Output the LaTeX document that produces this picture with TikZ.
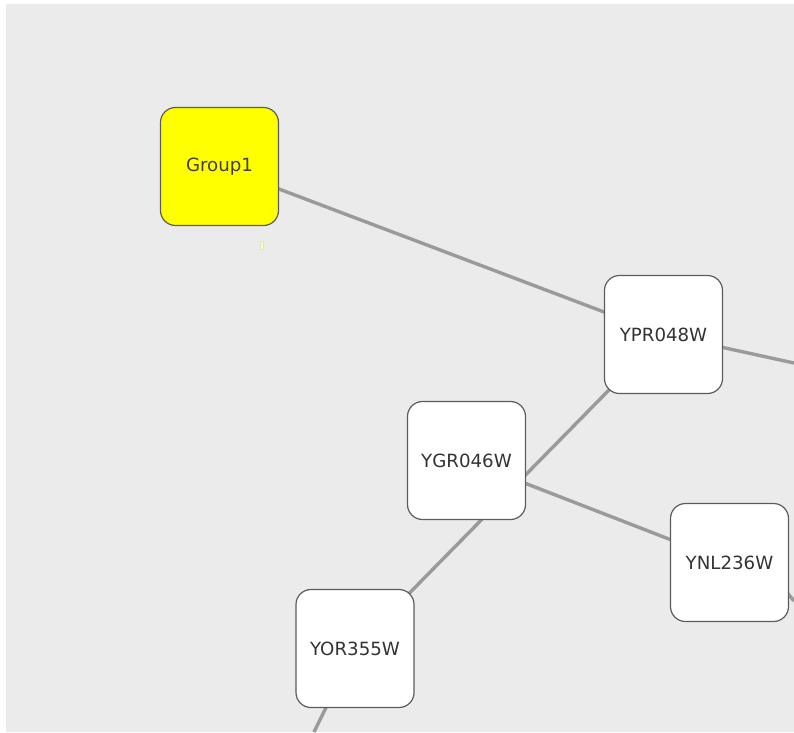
\documentclass[tikz,border=0pt]{standalone}
\usepackage{fontspec}
\setmainfont{DejaVu Sans}
\usetikzlibrary{backgrounds}
\definecolor{canvas}{HTML}{EBEBEB}
\definecolor{edgegray}{HTML}{9A9A9A}
\definecolor{bordergray}{HTML}{5C5C5C}
\definecolor{textgray}{HTML}{333333}
\definecolor{groupyellow}{HTML}{FFFF00}
\tikzset{
  gene/.style={draw=bordergray, line width=1.2pt, fill=white, rounded corners=15pt,
    minimum width=118pt, minimum height=118pt, inner sep=0pt,
    text=textgray, font=\fontsize{18.2}{20}\selectfont},
  groupnode/.style={gene, fill=groupyellow, text=black!75},
  link/.style={draw=edgegray, line width=3.4pt}
}
\begin{document}
\begin{tikzpicture}[x=1pt,y=-1pt]
\useasboundingbox (0,0) rectangle (794,732);
\begin{pgfonlayer}{background}
\fill[white] (0,0) rectangle (794,732);
\fill[canvas] (6,4) rectangle (794,732);
\end{pgfonlayer}

\node[groupnode] (g1) at (219.5,166.5) {Group1};
\node[gene] (ypr) at (663.5,334.5) {YPR048W};
\node[gene] (ygr) at (466.5,460.5) {YGR046W};
\node[gene] (ynl) at (729.5,562.5) {YNL236W};
\node[gene] (yor) at (355,648.5) {YOR355W};

\coordinate (e1) at (794,363);
\coordinate (e2) at (794,601);
\coordinate (e2s) at (785,590);
\coordinate (e3) at (314,732);

\fill[groupyellow!35, draw=black!12, line width=0.4pt] (260.5,241) rectangle (263.5,249);

\begin{pgfonlayer}{background}
\draw[link] (g1.center) -- (ypr.center);
\draw[link] (ypr.center) -- (e1);
\draw[link] (ypr.center) -- (yor.center);
\draw[link] (ygr.center) -- (ynl.center);
\draw[link] (e2s) -- (e2);
\draw[link] (yor.center) -- (e3);
\end{pgfonlayer}
\end{tikzpicture}
\end{document}
